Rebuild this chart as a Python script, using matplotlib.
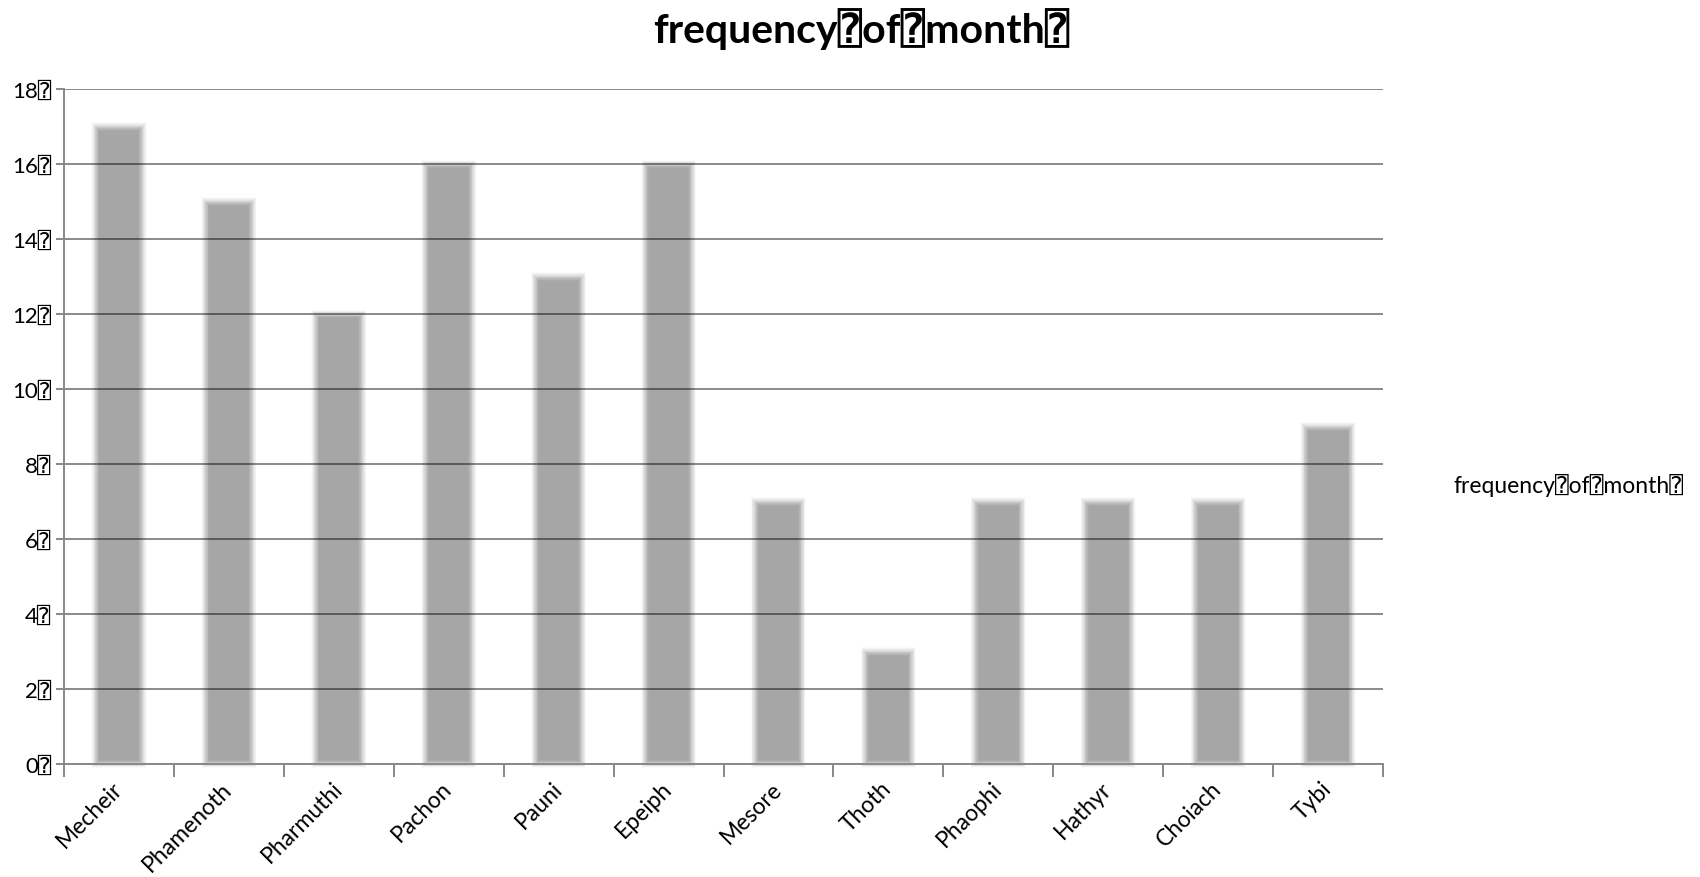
import matplotlib
matplotlib.use("Agg")
import matplotlib.pyplot as plt
import numpy as np

# Month counts
months = ["Mecheir", "Phamenoth", "Pharmuthi", "Pachon", "Pauni", "Epeiph",
          "Mesore", "Thoth", "Phaophi", "Hathyr", "Choiach", "Tybi"]
counts = [17, 15, 12, 16, 13, 16, 7, 3, 7, 7, 7, 9]
y_ticks = [0, 2, 4, 6, 8, 10, 12, 14, 16, 18]

SEP = "\u2370"  # boxed question mark separating the words in the labels
title_text = SEP.join(["frequency", "of", "month"]) + SEP
y_labels = [f"{v}{SEP}" for v in y_ticks]

plt.rcParams["font.family"] = ["Lato", "DejaVu Sans", "DejaVu Sans Mono"]

fig = plt.figure(figsize=(17, 8.78), dpi=100)
ax = fig.add_axes([64 / 1700, 1 - 765 / 878, (1383 - 64) / 1700, (765 - 90) / 878])

x = np.arange(len(months))
bar_rgb = np.array([0xa6, 0xa6, 0xa6]) / 255.0
white = np.ones(3)
bar_w = 0.43

# soft-edged bars: opaque rings fading from white to the bar colour
n_rings = 10
dx, dy = 0.036, 0.11
for k in range(1, n_rings + 1):
    e = 1 - 2 * (k - 1) / n_rings
    f = (k - 0.5) / n_rings
    col = white + (bar_rgb - white) * f
    ax.bar(x, [c + 2 * e * dy for c in counts], width=bar_w + 2 * e * dx,
           bottom=-e * dy, color=col, linewidth=0, zorder=2, clip_on=False)
ax.bar(x, [c - 2 * dy for c in counts], width=bar_w - 2 * dx, bottom=dy,
       color=bar_rgb, linewidth=0, zorder=2)

ax.set_xlim(-0.5, len(months) - 0.5)
ax.set_ylim(0, 18)
ax.set_yticks(y_ticks)
ax.set_yticklabels(y_labels, fontsize=16)
ax.yaxis.grid(True, color="black", alpha=0.46, linewidth=1.4, zorder=3)
ax.set_axisbelow(False)

ax.set_xticks(x)
ax.set_xticklabels(months, fontsize=16.5, rotation=45, ha="right",
                   va="center", rotation_mode="anchor")
ax.tick_params(axis="x", length=0, pad=15)
ax.set_xticks(np.arange(-0.5, len(months), 1.0), minor=True)
ax.tick_params(axis="x", which="minor", length=9, width=1.4, color="#888888",
               direction="out")
ax.tick_params(axis="y", length=6, width=1.4, color="#888888", pad=3)

for side in ("top", "right"):
    ax.spines[side].set_visible(False)
for side in ("left", "bottom"):
    ax.spines[side].set_color("#888888")
    ax.spines[side].set_linewidth(1.4)
    ax.spines[side].set_zorder(4)

fig.text(861 / 1700, 1 - 29 / 878, title_text, ha="center", va="center",
         fontsize=29.5, fontweight="bold")
fig.text(1454 / 1700, 1 - 486 / 878, title_text, ha="left", va="center",
         fontsize=16.5)

fig.savefig("out.png", dpi=100)
